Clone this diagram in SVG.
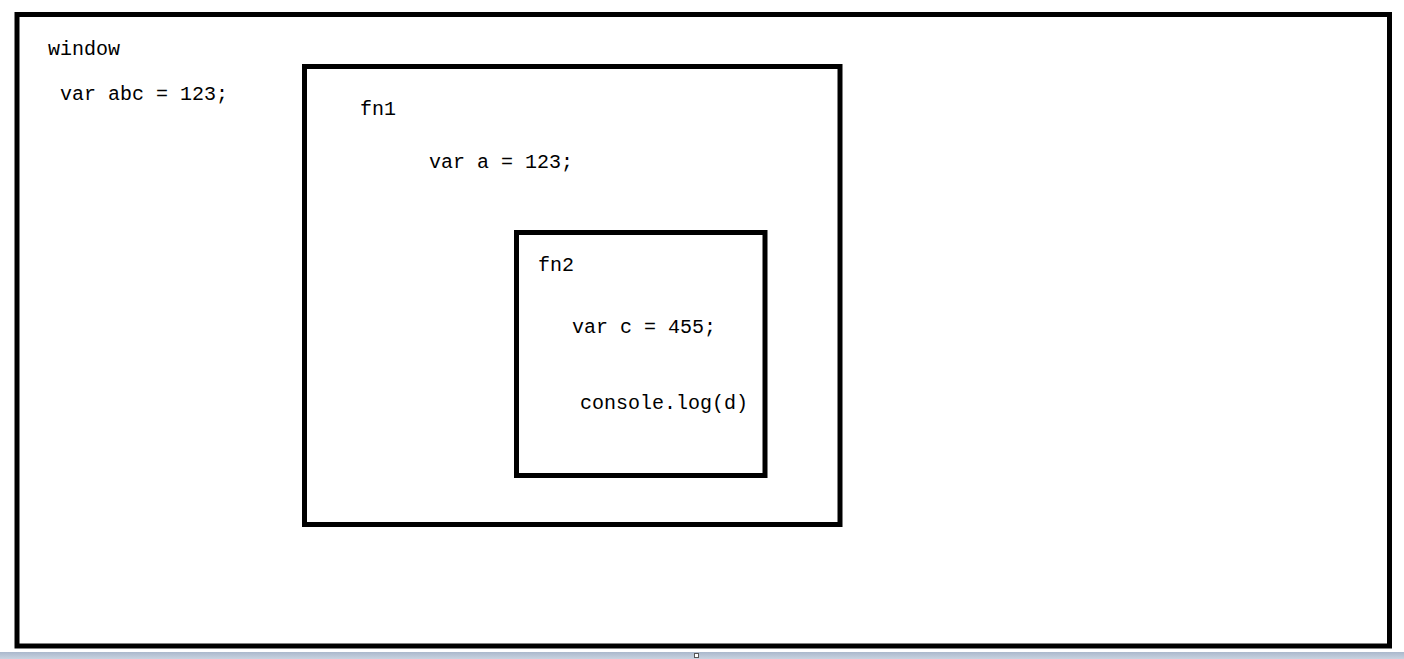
<svg xmlns="http://www.w3.org/2000/svg" width="1404" height="659" viewBox="0 0 1404 659">
  <defs>
    <linearGradient id="bar" x1="0" y1="0" x2="0" y2="1">
      <stop offset="0" stop-color="#aab8cc"/>
      <stop offset="1" stop-color="#c9d3e0"/>
    </linearGradient>
  </defs>
  <style>
    .box { fill: none; stroke: #000; stroke-width: 5; }
    .t { font-family: "Liberation Mono", "Noto Sans CJK SC", monospace; font-size: 20px; fill: #000; }
  </style>
  <rect x="0" y="0" width="1404" height="659" fill="#fff"/>
  <g id="window">
    <rect class="box" x="17" y="14.5" width="1372.5" height="631.5"/>
    <text class="t" x="48" y="55">window</text>
    <text class="t" x="60" y="100">var abc = 123;</text>
  </g>
  <g id="fn1">
    <rect class="box" x="304.5" y="66.5" width="535.5" height="458"/>
    <text class="t" x="360" y="115">fn1</text>
    <text class="t" x="429" y="168">var a = 123;</text>
  </g>
  <g id="fn2">
    <rect class="box" x="516.5" y="232.5" width="248.5" height="243"/>
    <text class="t" x="538" y="271">fn2</text>
    <text class="t" x="572" y="333">var c = 455;</text>
    <text class="t" x="580" y="409">console.log(d)</text>
  </g>
  <g id="connectors"></g>
  <g id="statusbar">
    <rect x="0" y="652" width="1404" height="7" fill="url(#bar)"/>
    <rect x="694.5" y="653.5" width="4" height="4" fill="#fff" stroke="#555" stroke-width="1"/>
  </g>
</svg>
